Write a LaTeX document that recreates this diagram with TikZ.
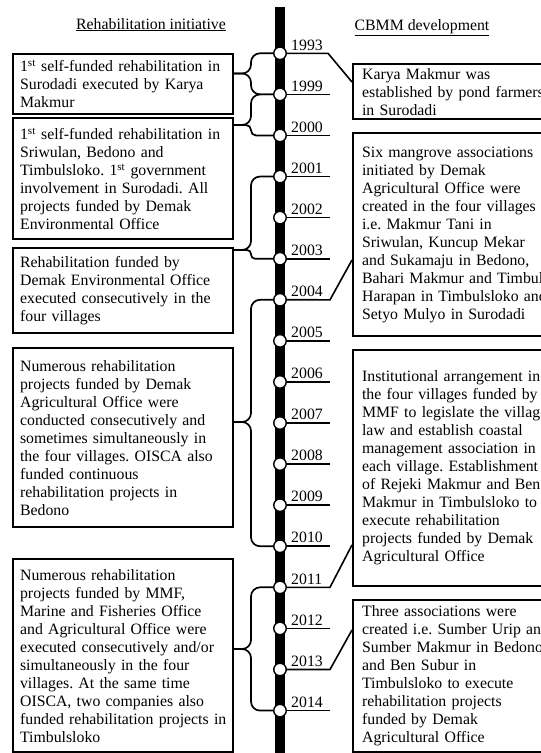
\documentclass[tikz,border=0pt]{standalone}
\usepackage{fontspec}
\setmainfont{Liberation Serif}
\frenchspacing
\begin{document}
\begin{tikzpicture}[x=1pt,y=-1pt,
  every node/.style={font=\fontsize{15.8}{18}\selectfont\frenchspacing},
  lbox/.style={draw, line width=2.2pt, rectangle, anchor=north west, text width=206pt,
    inner xsep=7pt, inner ysep=0pt, align=left, minimum height=#1},
  rbox/.style={draw, line width=2.2pt, rectangle, anchor=north west, text width=200pt,
    inner xsep=9pt, inner ysep=0pt, align=left, minimum height=#1},
  dot/.style={circle, draw, fill=white, line width=1.4pt, minimum size=12.5pt, inner sep=0pt},
  yearlbl/.style={anchor=base west, inner sep=0pt},
  conn/.style={line width=1.6pt},
  bracepath/.style={line width=1.7pt, rounded corners=#1},
  hdr/.style={anchor=base, inner sep=0pt}]
\useasboundingbox (0,0) rectangle (541,753);

% headers
\node[hdr] (h1) at (151,29) {\underline{Rehabilitation initiative}};
\node[hdr] (h2) at (422,30) {\underline{CBMM development}};

% timeline bar
\fill (275,7) rectangle (285,753);

% year dots and labels
\foreach \yr [count=\i from 0] in {1993,1999,2000,2001,2002,2003,2004,2005,2006,2007,2008,2009,2010,2011,2012,2013,2014} {
  \node[dot] (c\yr) at (280,53.3+41.08*\i) {};
  \node[yearlbl] (t\yr) at (291,50+41.08*\i) {\yr};
}
% plain year underlines
\foreach \yr in {1999,2000,2001,2002,2003,2005,2006,2007,2008,2009,2010,2012,2014} {
  \draw[conn] (c\yr.east) -- ++(43.5,0);
}

% left boxes
\node[lbox=60pt] (L1) at (12,53) {1\textsuperscript{st} self-funded rehabilitation in\\Surodadi executed by Karya\\Makmur};
\node[lbox=121pt] (L2) at (12,117) {1\textsuperscript{st} self-funded rehabilitation in\\Sriwulan, Bedono and\\Timbulsloko. 1\textsuperscript{st} government\\involvement in Surodadi. All\\projects funded by Demak\\Environmental Office};
\node[lbox=85pt] (L3) at (12,247) {Rehabilitation funded by\\Demak Environmental Office\\executed consecutively in the\\four villages};
\node[lbox=179pt] (L4) at (12,347) {Numerous rehabilitation\\projects funded by Demak\\Agricultural Office were\\conducted consecutively and\\sometimes simultaneously in\\the four villages. OISCA also\\funded continuous\\rehabilitation projects in\\Bedono};
\node[lbox=193pt] (L5) at (12,558) {Numerous rehabilitation\\projects funded by MMF,\\Marine and Fisheries Office\\and Agricultural Office were\\executed consecutively and/or\\simultaneously in the four\\villages. At the same time\\OISCA, two companies also\\\mbox{funded rehabilitation projects in}\\Timbulsloko};

% right boxes
\node[rbox=55pt] (R1) at (352,63) {Karya Makmur was\\established by pond farmers\\in Surodadi};
\node[rbox=203pt] (R2) at (352,132) {Six mangrove associations\\initiated by Demak\\Agricultural Office were\\created in the four villages\\i.e. Makmur Tani in\\Sriwulan, Kuncup Mekar\\and Sukamaju in Bedono,\\Bahari Makmur and Timbul\\Harapan in Timbulsloko and\\Setyo Mulyo in Surodadi};
\node[rbox=236pt] (R3) at (352,349) {Institutional arrangement in\\the four villages funded by\\MMF to legislate the village\\law and establish coastal\\management association in\\each village. Establishment\\of Rejeki Makmur and Ben\\Makmur in Timbulsloko to\\execute rehabilitation\\projects funded by Demak\\Agricultural Office};
\node[rbox=152pt] (R4) at (352,599) {Three associations were\\\mbox{created i.e. Sumber Urip and}\\Sumber Makmur in Bedono\\and Ben Subur in\\Timbulsloko to execute\\rehabilitation projects\\funded by Demak\\Agricultural Office};

% right connectors
\coordinate (r1in) at (352,82);
\coordinate (r2in) at (352,260);
\coordinate (r3in) at (352,545);
\coordinate (r4in) at (352,630);
\coordinate (k1) at (328,53.3);
\coordinate (k2) at (330,299.8);
\coordinate (k3) at (330,587.3);
\coordinate (k4) at (330,669.5);
\draw[conn] (c1993.east) -- (k1) -- (r1in);
\draw[conn] (c2004.east) -- (k2) -- (r2in);
\draw[conn] (c2011.east) -- (k3) -- (r3in);
\draw[conn] (c2013.east) -- (k4) -- (r4in);

% braces
\coordinate (sp) at (251,0);
\coordinate (b1) at (232,73.5);
\coordinate (b2) at (232,125);
\coordinate (b3) at (232,250);
\coordinate (b4) at (232,422);
\coordinate (b5) at (232,649);
\draw[bracepath=9pt] (c1993.west) -- (c1993 -| sp) -- (b1 -| sp) -- (b1);
\draw[bracepath=9pt] (c1999.west) -- (c1999 -| sp) -- (b1 -| sp) -- (b1);
\draw[bracepath=9pt] (c1999.west) -- (c1999 -| sp) -- (b2 -| sp) -- (b2);
\draw[bracepath=5pt] (c2000.west) -- (c2000 -| sp) -- (b2 -| sp) -- (b2);
\draw[bracepath=9pt] (c2001.west) -- (c2001 -| sp) -- (b3 -| sp) -- (b3);
\draw[bracepath=4pt] (c2003.west) -- (c2003 -| sp) -- (b3 -| sp) -- (b3);
\draw[bracepath=9pt] (c2004.west) -- (c2004 -| sp) -- (b4 -| sp) -- (b4);
\draw[bracepath=9pt] (c2010.west) -- (c2010 -| sp) -- (b4 -| sp) -- (b4);
\draw[bracepath=9pt] (c2011.west) -- (c2011 -| sp) -- (b5 -| sp) -- (b5);
\draw[bracepath=9pt] (c2014.west) -- (c2014 -| sp) -- (b5 -| sp) -- (b5);
\end{tikzpicture}
\end{document}
